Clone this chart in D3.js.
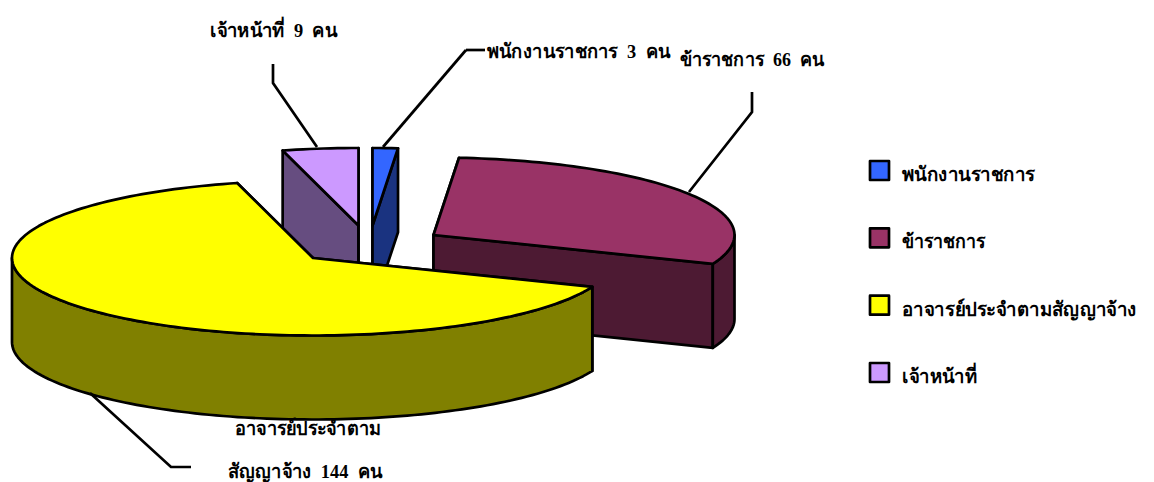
<!DOCTYPE html>
<html lang="th">
<head>
  <meta charset="UTF-8">
  <title>บุคลากร</title>
  <style>
    html, body { margin: 0; padding: 0; background: #fff; }
    svg { display: block; }
    text {
      font-family: "Liberation Serif", "Noto Sans", serif;
      font-weight: bold;
      font-size: 19.5px;
      fill: #000;
      word-spacing: 5px;
    }
    .edge { stroke: #000; stroke-width: 2.7; stroke-linejoin: round; }
    .leader { fill: none; stroke: #000; stroke-width: 2.7; }
  </style>
</head>
<body>
<svg width="1154" height="482"></svg>

<script src="https://d3js.org/d3.v7.min.js"></script>
<script>
  const categories = ["พนักงานราชการ", "ข้าราชการ", "อาจารย์ประจำตามสัญญาจ้าง", "เจ้าหน้าที่"];
  const values = [3, 66, 144, 9];
  const topColors = ["#3366ff", "#993366", "#ffff00", "#cc99ff"];
  const sideColors = ["#1a3380", "#4d1a33", "#808000", "#664d80"];

  // where each exploded slice sits, same order as categories
  const apexX = [372.5, 433.5, 313, 358.5];
  const apexY = [225.5, 235, 258, 225.5];
  const drawOrder = [3, 0, 1, 2];
  const legendWidths = [133, 83, 235, 75];

  const depth = 84;
  const x = d3.scaleLinear().domain([-1, 1]).range([-301, 301]);
  const y = d3.scaleLinear().domain([-1, 1]).range([-77.5, 77.5]);

  const svg = d3.select("svg");
  const line = d3.line();

  const slices = d3.pie().sort(null).value(d => d)(values);

  function rimPoint(i, a, dz) {
    return [apexX[i] + x(Math.sin(a)), apexY[i] - y(Math.cos(a)) + dz];
  }

  function rim(i, a0, a1, dz) {
    const n = Math.max(2, Math.ceil((a1 - a0) * 40));
    return d3.range(n + 1).map(k => rimPoint(i, a0 + (a1 - a0) * k / n, dz));
  }

  function cutFace(i, a) {
    return [
      [apexX[i], apexY[i]],
      rimPoint(i, a, 0),
      rimPoint(i, a, depth),
      [apexX[i], apexY[i] + depth]
    ];
  }

  function addFace(pts, fill) {
    svg.append("path")
      .attr("class", "edge")
      .attr("fill", fill)
      .attr("d", line(pts) + "Z");
  }

  drawOrder.forEach(i => {
    const s = slices[i];
    addFace(cutFace(i, s.startAngle), sideColors[i]);
    addFace(cutFace(i, s.endAngle), sideColors[i]);

    // outer wall only where the rim faces the viewer
    const a0 = Math.max(s.startAngle, Math.PI / 2);
    const a1 = Math.min(s.endAngle, Math.PI * 1.5);
    if (a1 > a0) {
      addFace(rim(i, a0, a1, 0).concat(rim(i, a0, a1, depth).reverse()), sideColors[i]);
    }

    addFace([[apexX[i], apexY[i]]].concat(rim(i, s.startAngle, s.endAngle, 0)), topColors[i]);
  });

  // leader lines
  const leaders = [
    [[466, 50], [485, 50]],
    [[383, 147], [466, 50]],
    [[317, 147], [273, 83], [273, 64]],
    [[689, 192], [752, 112], [752, 92]],
    [[90, 393], [171, 467], [191, 467]]
  ];
  leaders.forEach(pts => {
    svg.append("path").attr("class", "leader").attr("d", line(pts));
  });

  // data labels, squeezed to the width they take in the original
  const labelLines = [
    { text: `พนักงานราชการ ${values[0]} คน`, x: 487, y: 58, w: 183 },
    { text: `ข้าราชการ ${values[1]} คน`, x: 680, y: 66, w: 144 },
    { text: "อาจารย์ประจำตาม", x: 235, y: 435, w: 146 },
    { text: `สัญญาจ้าง ${values[2]} คน`, x: 228, y: 478, w: 154 },
    { text: `เจ้าหน้าที่ ${values[3]} คน`, x: 210, y: 37, w: 127 }
  ];
  svg.selectAll("text.label")
    .data(labelLines)
    .enter()
    .append("text")
    .attr("class", "label")
    .attr("x", d => d.x)
    .attr("y", d => d.y)
    .attr("textLength", d => d.w)
    .attr("lengthAdjust", "spacingAndGlyphs")
    .text(d => d.text);

  // legend
  const legendY = d3.scalePoint().domain(categories).range([160, 362]);
  const legend = svg.selectAll("g.legend")
    .data(categories)
    .enter()
    .append("g")
    .attr("class", "legend")
    .attr("transform", d => `translate(870,${legendY(d)})`);

  legend.append("rect")
    .attr("class", "edge")
    .attr("x", 0)
    .attr("y", 1)
    .attr("width", 19)
    .attr("height", 19)
    .attr("fill", (d, i) => topColors[i]);

  legend.append("text")
    .attr("x", 32)
    .attr("y", 21)
    .attr("textLength", (d, i) => legendWidths[i])
    .attr("lengthAdjust", "spacingAndGlyphs")
    .text(d => d);
</script>
</body>
</html>
